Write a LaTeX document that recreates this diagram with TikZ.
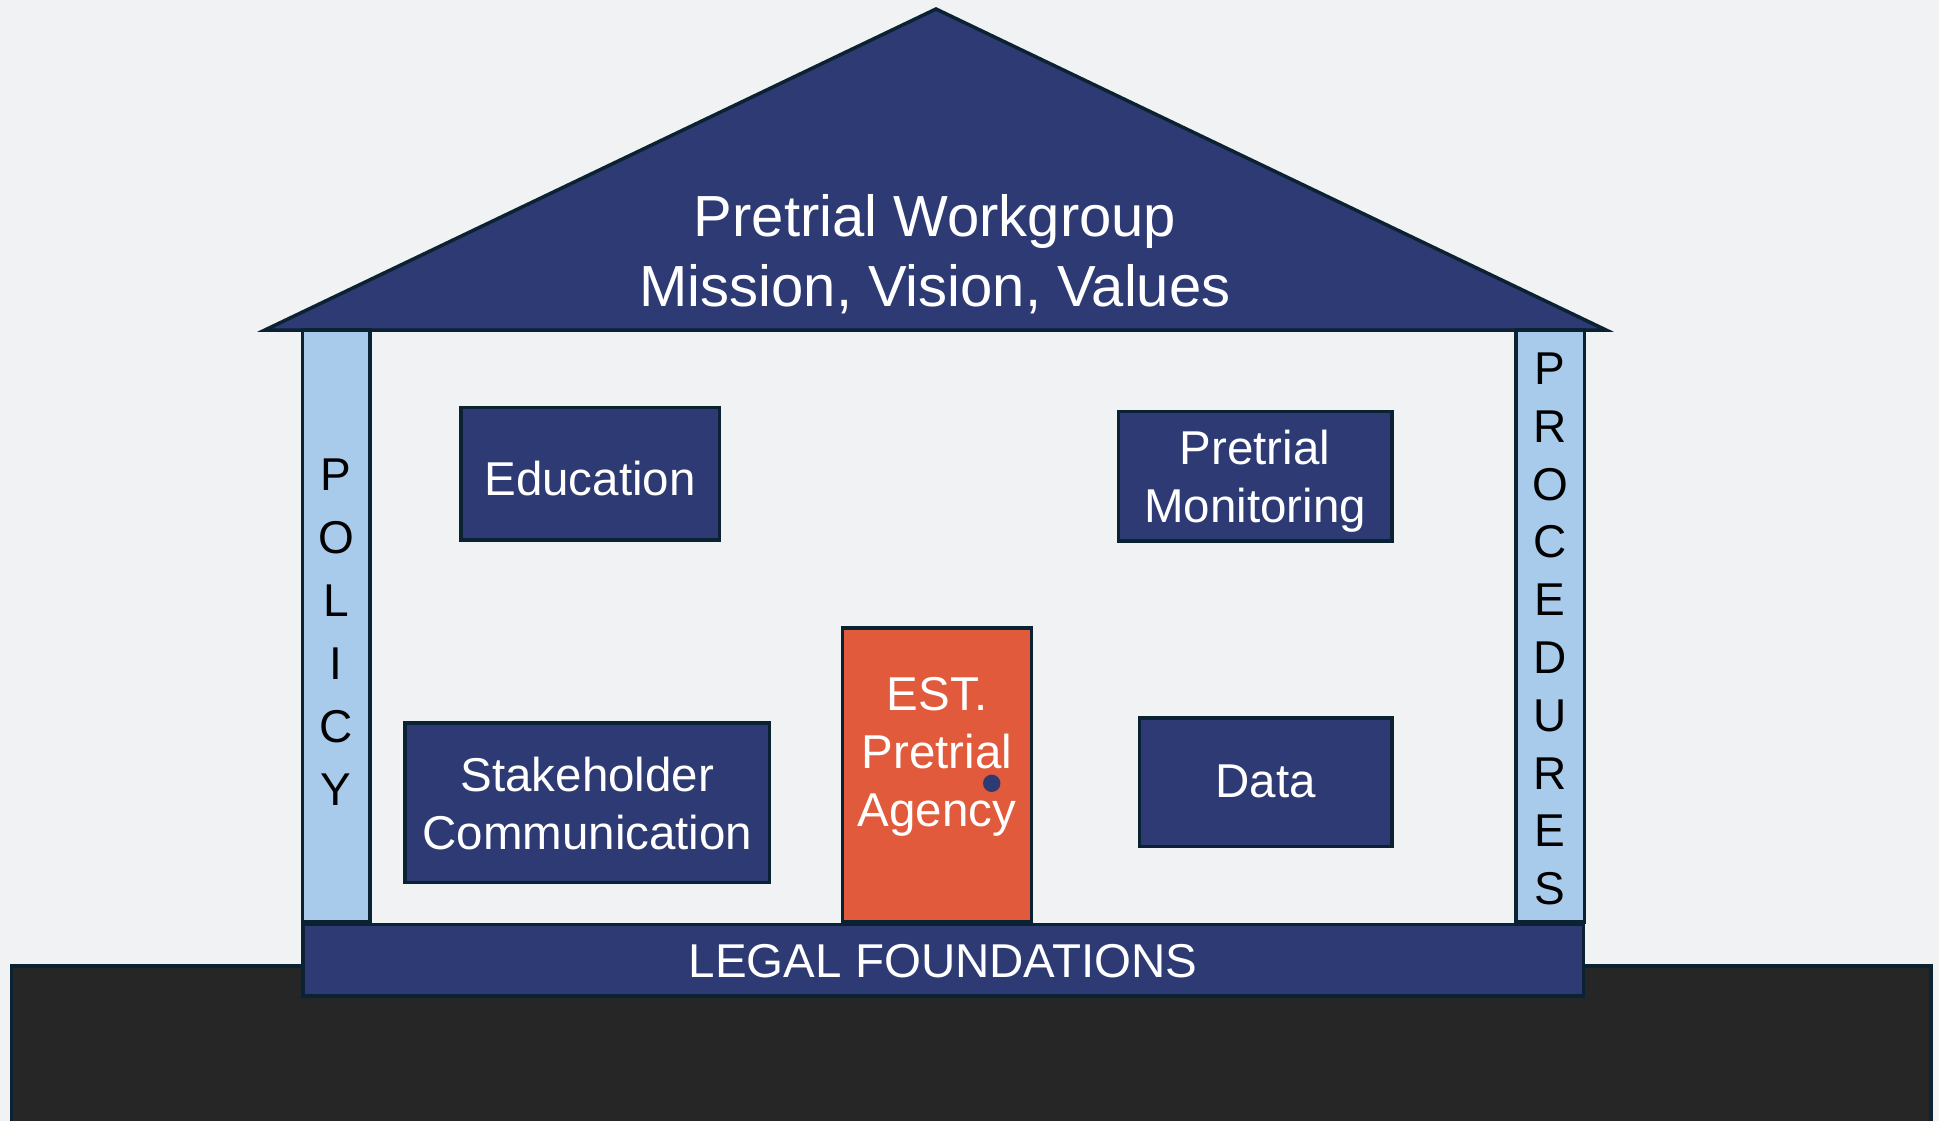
\documentclass[tikz,border=0pt]{standalone}
\usepackage{fontspec}
\setmainfont{Liberation Sans}
\definecolor{bgc}{HTML}{F0F2F4}
\definecolor{navy}{HTML}{2E3A74}
\definecolor{edge}{HTML}{0B2232}
\definecolor{pillar}{HTML}{A8CBEB}
\definecolor{doorc}{HTML}{E05A3B}
\definecolor{groundc}{HTML}{262626}
\tikzset{
  outl/.style={draw=edge, line width=3.5pt, line join=miter},
  navybox/.style={outl, fill=navy, rectangle, inner sep=0pt},
  navytext/.style={text=white, align=center, inner sep=0pt,
    font=\fontsize{47.5}{58}\selectfont},
  pillarbox/.style={outl, fill=pillar, rectangle, inner sep=0pt},
  pillartext/.style={text=black, align=center, inner sep=0pt},
}
\begin{document}
\begin{tikzpicture}[x=1pt,y=-1pt]
\useasboundingbox (0,0) rectangle (1939,1121);
\fill[bgc] (0,0) rectangle (1939,1121);
% ground
\draw[outl, fill=groundc] (11.5,966) rectangle (1931,1135);
% roof
\draw[outl, fill=navy] (265,330) -- (936,9) -- (1606,330) -- cycle;
\node[text=white, align=center, inner sep=0pt, font=\fontsize{58}{70}\selectfont] (roof) at (935,254)
  {Pretrial Workgroup\\Mission, Vision, Values};
% pillars
\node[pillarbox, minimum width=67.5pt, minimum height=592pt] (pol) at (336,626) {};
\node[pillarbox, minimum width=68.5pt, minimum height=592pt] (proc) at (1550,626) {};
\node[pillartext, font=\fontsize{46}{63}\selectfont] (poltext) at (336,632)
  {P\\O\\L\\I\\C\\Y};
\node[pillartext, font=\fontsize{46}{57.8}\selectfont] (proctext) at (1550,629)
  {P\\R\\O\\C\\E\\D\\U\\R\\E\\S};
% foundation
\node[navybox, minimum width=1280.5pt, minimum height=71.5pt] (found) at (943,960) {};
\node[navytext] (foundtext) at ([yshift=-1pt]found.center) {LEGAL FOUNDATIONS};
% boxes
\node[navybox, minimum width=258.5pt, minimum height=132.5pt] (edu) at (590,473.6) {};
\node[navytext] (edutext) at ([yshift=-5pt]edu.center) {Education};
\node[navybox, minimum width=273.5pt, minimum height=129.5pt] (mon) at (1255,476) {};
\node[navytext] (montext) at ([yshift=-5pt]mon.center) {Pretrial\\Monitoring};
\node[navybox, minimum width=364.5pt, minimum height=159.5pt] (stake) at (587.4,802.6) {};
\node[navytext] (staketext) at ([yshift=-1pt]stake.center) {Stakeholder\\Communication};
\node[navybox, minimum width=252.5pt, minimum height=128.5pt] (data) at (1265.7,782) {};
\node[navytext] (datatext) at ([yshift=1pt]data.center) {Data};
% door
\node[outl, fill=doorc, rectangle, inner sep=0pt, minimum width=189pt, minimum height=294.25pt] (door) at (937,774.9) {};
\node[navytext] (doortext) at (937,757) {EST.\\Pretrial\\Agency};
\fill[navy] (991.7,783.3) circle[radius=8.7pt];
\end{tikzpicture}
\end{document}
